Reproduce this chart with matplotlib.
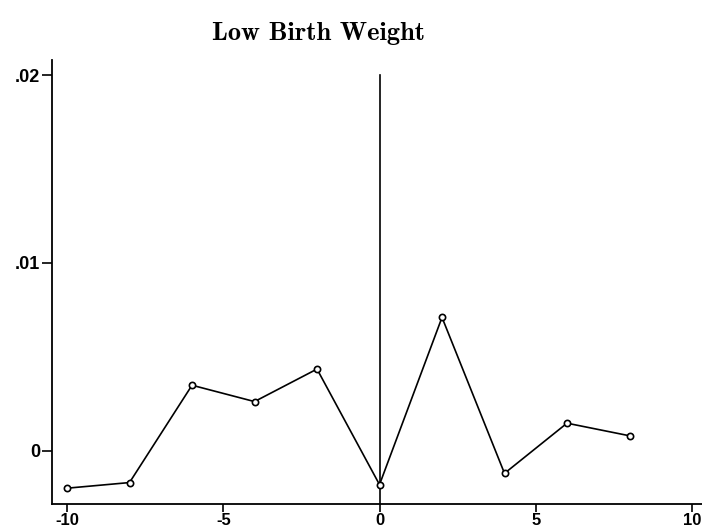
import numpy as np
import matplotlib.pyplot as plt

# event time and estimated effect on low birth weight
periodi = [-10, -8, -6, -4, -2, 0, 2, 4, 6, 8]
efekat = [-0.00199, -0.00169, 0.00349, 0.00262, 0.00435, -0.00180, 0.00710, -0.00120, 0.00147, 0.00080]

x_tikovi = [-10, -5, 0, 5, 10]
x_oznake = ["-10", "-5", "0", "5", "10"]
y_tikovi = [0, 0.01, 0.02]
y_oznake = ["0", ".01", ".02"]

naslov = "Low Birth Weight"

plt.rcParams['axes.unicode_minus'] = False

fig = plt.figure(figsize=(7.02, 5.29), dpi=100)
ax = fig.add_axes([0.0741, 0.0473, 0.9259, 0.8393])

ymin, ymax = -0.00283, 0.0208
ax.set_xlim(-10.48, 10.32)
ax.set_ylim(ymin, ymax)

# vertikalna linija u nuli
ax.plot([0, 0], [ymin, 0.02], color="black", lw=1.2)

ax.plot(periodi, efekat, color="black", lw=1.2, marker="o", markersize=4.5,
        markerfacecolor="white", markeredgecolor="black", markeredgewidth=1.2)

for s in ["top", "right"]:
    ax.spines[s].set_visible(False)
for s in ["left", "bottom"]:
    ax.spines[s].set_linewidth(1.3)

porodica = ["Liberation Sans Narrow", "Liberation Sans", "DejaVu Sans"]
ax.set_xticks(x_tikovi)
ax.set_xticklabels(x_oznake, family=porodica, weight="bold", size=12)
ax.set_yticks(y_tikovi)
ax.set_yticklabels(y_oznake, family=porodica, weight="bold", size=13)
ax.tick_params(axis="y", direction="out", length=7, width=1.2, pad=1.5)
ax.tick_params(axis="x", direction="out", length=6, width=1.2, pad=0.5)

fig.text(0.454, 0.937, naslov, ha="center", va="center",
         family=["cmb10", "DejaVu Serif"], fontsize=19)

fig.savefig("out.png", dpi=100)
